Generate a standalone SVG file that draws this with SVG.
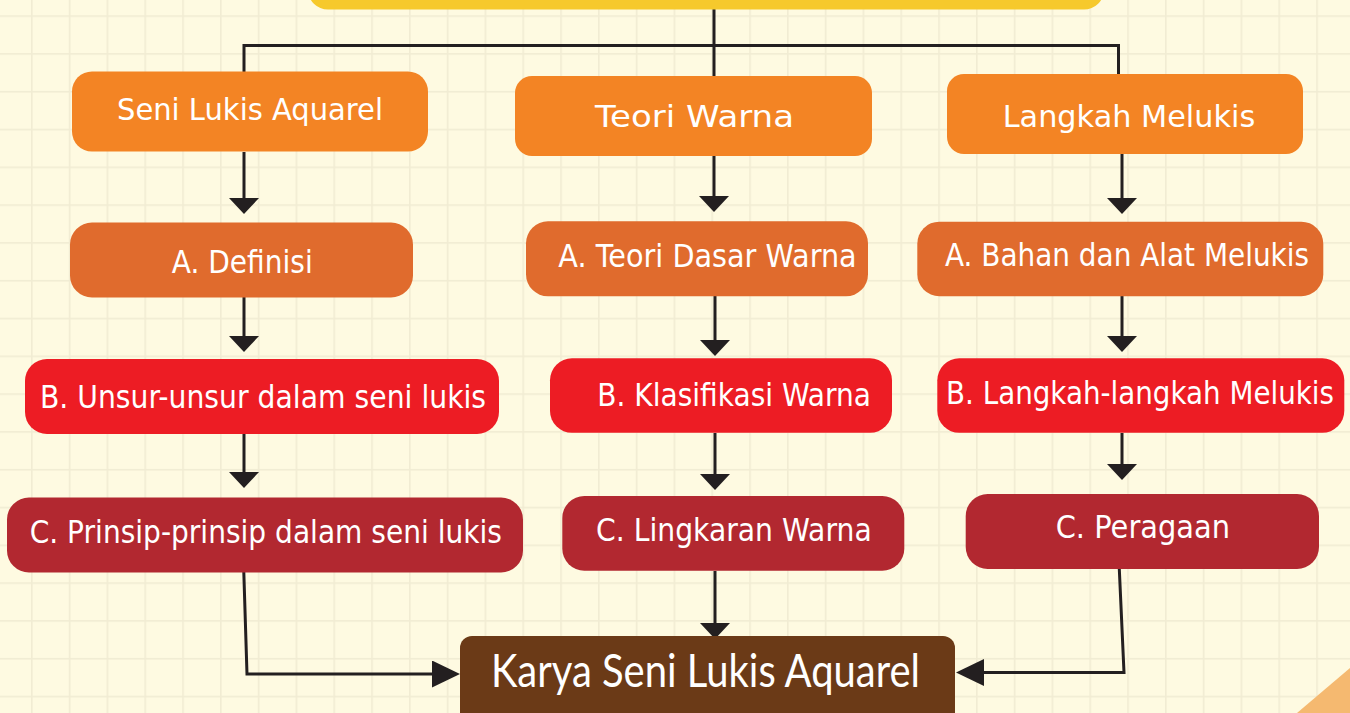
<svg xmlns="http://www.w3.org/2000/svg" width="1350" height="713" viewBox="0 0 1350 713">
<style>
.bg{fill:#FEFAE1}
.hdr{fill:#F38424}
.la{fill:#E06B2D}
.lb{fill:#ED1C24}
.lc{fill:#B22830}
.fin{fill:#6B3A17}
.top{fill:#F6C92C}
.t{font-family:"DejaVu Sans","Liberation Sans",sans-serif;fill:#FFFFFF}
.th{font-size:30px}
.tr{font-size:32px}
.tk{font-family:Lato,"Open Sans","Liberation Sans",sans-serif;font-size:46px;fill:#FFFFFF}
.c{fill:none;stroke:#231F20;stroke-width:3}
</style>
<defs>
<pattern id="grid" x="31" y="15.3" width="37.8" height="37.8" patternUnits="userSpaceOnUse">
<rect x="0" y="0" width="1.6" height="37.8" fill="#F1ECD3"/>
<rect x="0" y="0" width="37.8" height="1.6" fill="#F1ECD3"/>
</pattern>
<marker id="ad" viewBox="0 0 16 30" refX="1" refY="15" markerWidth="16" markerHeight="30" markerUnits="userSpaceOnUse" orient="auto">
<path d="M0,0 L16,15 L0,30 Z" fill="#231F20"/>
</marker>
<marker id="as" viewBox="0 0 28 27" refX="1" refY="13.5" markerWidth="28" markerHeight="27" markerUnits="userSpaceOnUse" orient="auto">
<path d="M0,0 L28,13.5 L0,27 Z" fill="#231F20"/>
</marker>
</defs>
<rect class="bg" x="0" y="0" width="1350" height="713"/>
<rect x="0" y="0" width="1350" height="713" fill="url(#grid)"/>
<polygon points="1297,713 1350,668 1350,713" fill="#F5B970"/>

<g id="connectors">
<path class="c" d="M714,9 V76"/>
<path class="c" d="M244,72 V45.5 H1118.5 V74"/>
<path class="c" d="M244,152 V199" marker-end="url(#ad)"/>
<path class="c" d="M714,156 V197" marker-end="url(#ad)"/>
<path class="c" d="M1122,154 V199" marker-end="url(#ad)"/>
<path class="c" d="M244,297 V337" marker-end="url(#ad)"/>
<path class="c" d="M715,296 V341" marker-end="url(#ad)"/>
<path class="c" d="M1122,296 V337" marker-end="url(#ad)"/>
<path class="c" d="M244,434 V473" marker-end="url(#ad)"/>
<path class="c" d="M715,433 V475" marker-end="url(#ad)"/>
<path class="c" d="M1122,433 V465" marker-end="url(#ad)"/>
<path class="c" d="M715,571 V624" marker-end="url(#ad)"/>
<path class="c" d="M243.8,572 L247,674 H433" marker-end="url(#as)"/>
<path class="c" d="M1119.3,569 L1124,672.5 H983" marker-end="url(#as)"/>
</g>

<g id="top-box"><rect class="top" x="308" y="-30" width="796" height="39.5" rx="20"/></g>

<g id="n-seni"><rect class="hdr" x="72" y="71.5" width="356" height="80" rx="20"/>
<text class="t th" x="117" y="120" textLength="266" lengthAdjust="spacingAndGlyphs">Seni Lukis Aquarel</text></g>
<g id="n-teori"><rect class="hdr" x="515" y="76" width="357" height="80" rx="17"/>
<text class="t th" x="595" y="126.7" textLength="199" lengthAdjust="spacingAndGlyphs">Teori Warna</text></g>
<g id="n-langkah"><rect class="hdr" x="947" y="74" width="356" height="80" rx="17"/>
<text class="t th" x="1002.7" y="126.7" textLength="252.6" lengthAdjust="spacingAndGlyphs">Langkah Melukis</text></g>

<g id="n-a1"><rect class="la" x="70" y="222.5" width="343" height="75" rx="22"/>
<text class="t tr" x="171.7" y="272.5" textLength="141" lengthAdjust="spacingAndGlyphs">A. Definisi</text></g>
<g id="n-a2"><rect class="la" x="526" y="221.3" width="342" height="75" rx="22"/>
<text class="t tr" x="558.3" y="266.7" textLength="298.4" lengthAdjust="spacingAndGlyphs">A. Teori Dasar Warna</text></g>
<g id="n-a3"><rect class="la" x="917.3" y="221.7" width="406" height="74.5" rx="22"/>
<text class="t tr" x="945" y="266" textLength="364" lengthAdjust="spacingAndGlyphs">A. Bahan dan Alat Melukis</text></g>

<g id="n-b1"><rect class="lb" x="25" y="359" width="474" height="75" rx="22"/>
<text class="t tr" x="39.9" y="408.3" textLength="446.2" lengthAdjust="spacingAndGlyphs">B. Unsur-unsur dalam seni lukis</text></g>
<g id="n-b2"><rect class="lb" x="550" y="358.3" width="342" height="74.5" rx="22"/>
<text class="t tr" x="597.3" y="406" textLength="273.7" lengthAdjust="spacingAndGlyphs">B. Klasifikasi Warna</text></g>
<g id="n-b3"><rect class="lb" x="937.3" y="358.3" width="407" height="74.5" rx="22"/>
<text class="t tr" x="946" y="404" textLength="388" lengthAdjust="spacingAndGlyphs">B. Langkah-langkah Melukis</text></g>

<g id="n-c1"><rect class="lc" x="7" y="497.5" width="516" height="75" rx="22"/>
<text class="t tr" x="29.7" y="542.7" textLength="472.3" lengthAdjust="spacingAndGlyphs">C. Prinsip-prinsip dalam seni lukis</text></g>
<g id="n-c2"><rect class="lc" x="562.3" y="496" width="342" height="74.7" rx="22"/>
<text class="t tr" x="596" y="541" textLength="275.7" lengthAdjust="spacingAndGlyphs">C. Lingkaran Warna</text></g>
<g id="n-c3"><rect class="lc" x="965.7" y="494" width="353.3" height="75" rx="22"/>
<text class="t tr" x="1055.7" y="537.7" textLength="174.3" lengthAdjust="spacingAndGlyphs">C. Peragaan</text></g>

<g id="n-karya"><rect class="fin" x="460" y="636" width="495" height="100" rx="12"/>
<text class="tk" x="491" y="686.7" textLength="429" lengthAdjust="spacingAndGlyphs">Karya Seni Lukis Aquarel</text></g>
</svg>
